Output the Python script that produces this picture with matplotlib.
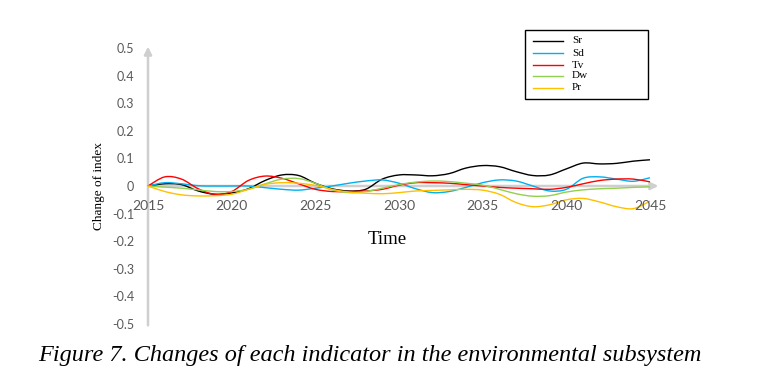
import numpy as np
import matplotlib
matplotlib.use("Agg")
import matplotlib.pyplot as plt
from matplotlib.path import Path
from matplotlib.patches import PathPatch, Rectangle
from matplotlib.lines import Line2D

years = list(range(2015, 2046))
sr = [0, 0.008, 0.005, -0.018, -0.03, -0.025, -0.01, 0.02, 0.04, 0.038, 0.01,
      -0.01, -0.018, -0.012, 0.025, 0.04, 0.04, 0.037, 0.045, 0.065, 0.074,
      0.07, 0.052, 0.038, 0.04, 0.062, 0.083, 0.08, 0.082, 0.09, 0.095]
sd = [0, 0.012, 0.008, 0.001, 0, 0, 0, -0.006, -0.012, -0.015, -0.008,
      0, 0.01, 0.018, 0.022, 0.01, -0.01, -0.024, -0.02, -0.005, 0.012,
      0.022, 0.018, 0, -0.018, -0.012, 0.028, 0.033, 0.025, 0.017, 0.03]
tv = [0, 0.033, 0.025, -0.01, -0.03, -0.02, 0.02, 0.036, 0.028, 0.008, -0.012,
      -0.02, -0.02, -0.018, -0.012, 0.003, 0.012, 0.012, 0.01, 0.005, 0,
      -0.005, -0.008, -0.01, -0.012, -0.005, 0.008, 0.02, 0.025, 0.025, 0.015]
dw = [0, -0.004, -0.008, -0.014, -0.02, -0.02, -0.012, 0.008, 0.025, 0.027, 0.01,
      -0.014, -0.024, -0.02, -0.008, 0.005, 0.014, 0.018, 0.016, 0.01, 0.003,
      -0.012, -0.028, -0.037, -0.035, -0.022, -0.014, -0.01, -0.008, -0.005, -0.003]
pr = [0, -0.02, -0.032, -0.036, -0.035, -0.03, -0.012, 0.006, 0.012, 0.01, 0.002,
      -0.012, -0.022, -0.026, -0.028, -0.024, -0.018, -0.016, -0.014, -0.012, -0.015,
      -0.03, -0.06, -0.075, -0.068, -0.05, -0.045, -0.058, -0.075, -0.082, -0.055]

names = ["Sr", "Sd", "Tv", "Dw", "Pr"]
colors = ["#000000", "#00B0F0", "#FF0000", "#92D050", "#FFC000"]
xticks = [2015, 2020, 2025, 2030, 2035, 2040, 2045]
yticks = [0.5, 0.4, 0.3, 0.2, 0.1, 0, -0.1, -0.2, -0.3, -0.4, -0.5]
ylabels = ["0.5", "0.4", "0.3", "0.2", "0.1", "0", "-0.1", "-0.2", "-0.3", "-0.4", "-0.5"]


def smooth_path(x, y):
    # excel-like smoothed line: bezier through every point
    x = np.asarray(x, float)
    y = np.asarray(y, float)
    n = len(x)
    verts = [(x[0], y[0])]
    codes = [Path.MOVETO]
    for i in range(n - 1):
        j0 = max(i - 1, 0)
        j3 = min(i + 2, n - 1)
        c1 = (x[i] + (x[i + 1] - x[j0]) / 6, y[i] + (y[i + 1] - y[j0]) / 6)
        c2 = (x[i + 1] - (x[j3] - x[i]) / 6, y[i + 1] - (y[j3] - y[i]) / 6)
        verts += [c1, c2, (x[i + 1], y[i + 1])]
        codes += [Path.CURVE4] * 3
    return Path(verts, codes)


W, H = 782, 392
fig = plt.figure(figsize=(W / 100, H / 100), dpi=100)
ax = fig.add_axes([148 / W, 68 / H, 502 / W, 276 / H])
ax.set_xlim(2015, 2045)
ax.set_ylim(-0.5, 0.5)
for s in ax.spines.values():
    s.set_visible(False)

axis_gray = "#CFCFCF"
ax.annotate("", xy=(2045.5, 0), xytext=(2015, 0), annotation_clip=False,
            arrowprops=dict(arrowstyle="-|>", color=axis_gray, lw=1.8,
                            mutation_scale=11, shrinkA=0, shrinkB=0), zorder=1)
ax.annotate("", xy=(2015, 0.505), xytext=(2015, -0.505), annotation_clip=False,
            arrowprops=dict(arrowstyle="-|>", color=axis_gray, lw=1.8,
                            mutation_scale=11, shrinkA=0, shrinkB=0), zorder=1)

series = [sr, sd, tv, dw, pr]
for vals, c in zip(series, colors):
    ax.add_patch(PathPatch(smooth_path(years, vals), fill=False, edgecolor=c,
                           lw=1.0, zorder=3, clip_on=False))

ax.set_xticks([])
ax.set_yticks(yticks, ylabels)
ax.tick_params(axis="y", length=0, pad=10, labelcolor="#595959", labelsize=9)
for t in ax.get_yticklabels():
    t.set_fontfamily("Lato")

for yr in xticks:
    ax.annotate(str(yr), xy=(yr, 0), xytext=(0, -14.5), textcoords="offset points",
                ha="center", va="center", fontsize=10, color="#595959",
                family="Lato", annotation_clip=False)

ax.set_ylabel("Change of index", family="Liberation Serif", fontsize=9.5, labelpad=5)
fig.text(387 / W, 1 - 240 / H, "Time", family="Liberation Serif", fontsize=13.5,
         ha="center", va="center")
fig.text(38 / W, 1 - 355 / H,
         "Figure 7. Changes of each indicator in the environmental subsystem",
         family="Liberation Serif", style="italic", fontsize=17.5, ha="left", va="center")

# legend box drawn by hand to match the wide, loose excel legend
fig.add_artist(Rectangle((525 / W, 1 - 99 / H), 123 / W, 69 / H, transform=fig.transFigure,
                         fill=False, edgecolor="black", lw=1.0))
row_y = [40.5, 53, 65, 76, 87.5]
for nm, c, ry in zip(names, colors, row_y):
    fig.add_artist(Line2D([533 / W, 563 / W], [1 - ry / H, 1 - ry / H],
                          transform=fig.transFigure, color=c, lw=1.0))
    fig.text(572 / W, 1 - ry / H, nm, family="Liberation Serif", fontsize=8,
             ha="left", va="center")

fig.savefig("out.png", dpi=100)
